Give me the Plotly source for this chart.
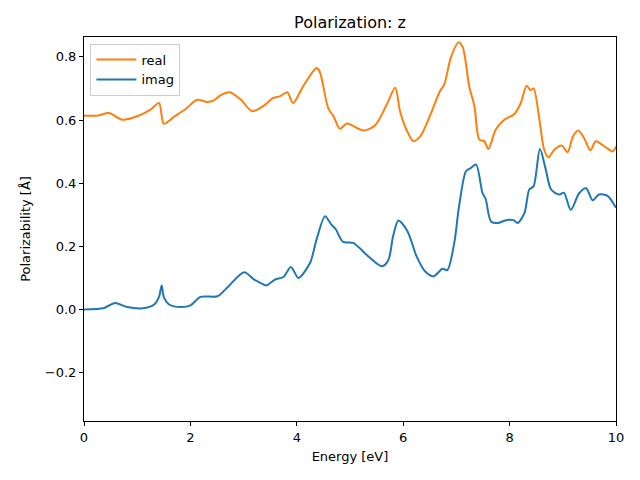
import plotly.graph_objects as go

real_E = [0, 0.25, 0.47, 0.72, 1.0, 1.25, 1.41, 1.50, 1.69, 1.91, 2.13, 2.32, 2.44, 2.57, 2.74, 2.95, 3.16,
          3.38, 3.56, 3.68, 3.82, 3.93, 4.12, 4.37, 4.43, 4.59, 4.69, 4.81, 4.94, 5.25, 5.47, 5.69, 5.85,
          5.94, 6.06, 6.19, 6.32, 6.50, 6.69, 6.77, 6.90, 7.04, 7.12, 7.24, 7.34, 7.43, 7.52, 7.60, 7.74,
          7.90, 8.09, 8.21, 8.32, 8.39, 8.45, 8.56, 8.65, 8.73, 8.84, 8.98, 9.09, 9.19, 9.29, 9.40, 9.52,
          9.62, 9.78, 9.94, 10.0]
real_v = [0.614, 0.614, 0.622, 0.601, 0.612, 0.633, 0.654, 0.588, 0.610, 0.635, 0.664, 0.657, 0.662, 0.679,
          0.688, 0.664, 0.628, 0.646, 0.670, 0.675, 0.688, 0.654, 0.707, 0.765, 0.754, 0.638, 0.612, 0.572,
          0.589, 0.567, 0.583, 0.649, 0.702, 0.628, 0.570, 0.533, 0.548, 0.612, 0.691, 0.712, 0.800, 0.846,
          0.830, 0.707, 0.643, 0.538, 0.534, 0.508, 0.570, 0.601, 0.619, 0.654, 0.709, 0.695, 0.700, 0.601,
          0.506, 0.482, 0.506, 0.519, 0.498, 0.548, 0.567, 0.543, 0.504, 0.533, 0.517, 0.501, 0.517]

imag_E = [0, 0.38, 0.58, 0.81, 1.10, 1.32, 1.41, 1.46, 1.50, 1.60, 1.82, 2.0, 2.19, 2.51, 2.69, 3.01, 3.20,
          3.38, 3.43, 3.59, 3.75, 3.89, 4.03, 4.25, 4.37, 4.53, 4.65, 4.73, 4.87, 5.06, 5.34, 5.60, 5.72,
          5.81, 5.91, 6.08, 6.25, 6.41, 6.57, 6.74, 6.83, 6.96, 7.05, 7.18, 7.27, 7.37, 7.49, 7.55, 7.65,
          7.78, 7.93, 8.07, 8.15, 8.28, 8.37, 8.45, 8.57, 8.68, 8.78, 8.93, 9.02, 9.15, 9.31, 9.44, 9.56,
          9.68, 9.84, 10.0]
imag_v = [0.0, 0.005, 0.021, 0.008, 0.004, 0.016, 0.040, 0.076, 0.040, 0.016, 0.008, 0.013, 0.040, 0.042,
          0.069, 0.118, 0.095, 0.079, 0.076, 0.095, 0.103, 0.135, 0.100, 0.148, 0.221, 0.295, 0.269, 0.255,
          0.214, 0.211, 0.169, 0.137, 0.156, 0.232, 0.282, 0.248, 0.169, 0.121, 0.105, 0.129, 0.125, 0.211,
          0.327, 0.438, 0.448, 0.459, 0.369, 0.350, 0.279, 0.274, 0.283, 0.283, 0.274, 0.306, 0.380, 0.390,
          0.508, 0.443, 0.380, 0.364, 0.370, 0.316, 0.369, 0.384, 0.346, 0.364, 0.360, 0.322]

x_ticks = [0, 2, 4, 6, 8, 10]
y_ticks = [-0.2, 0.0, 0.2, 0.4, 0.6, 0.8]

fig = go.Figure()
fig.add_trace(go.Scatter(x=real_E, y=real_v, mode="lines", name="real",
                         line=dict(color="#ff7f0e", width=2, shape="spline", smoothing=0.8)))
fig.add_trace(go.Scatter(x=imag_E, y=imag_v, mode="lines", name="imag",
                         line=dict(color="#1f77b4", width=2, shape="spline", smoothing=0.8)))

axis_common = dict(showline=True, linecolor="black", linewidth=1, mirror=True, ticks="outside",
                   ticklen=4, tickcolor="black", showgrid=False, zeroline=False,
                   tickfont=dict(family="DejaVu Sans", size=13, color="black"))
fig.update_xaxes(range=[0, 10], tickvals=x_ticks, title=dict(text="Energy [eV]", standoff=8,
                 font=dict(family="DejaVu Sans", size=13, color="black")), **axis_common)
fig.update_yaxes(range=[-0.353, 0.863], tickvals=y_ticks, tickformat=".1f",
                 title=dict(text="Polarizability [Å]", standoff=11,
                            font=dict(family="DejaVu Sans", size=13, color="black")), **axis_common)

W, H = 632, 472
fig.update_layout(
    width=W, height=H,
    margin=dict(l=76, r=24, t=29, b=59, autoexpand=False),
    paper_bgcolor="white", plot_bgcolor="white",
    title=dict(text="Polarization: z", x=342 / W, xanchor="center", y=1 - 14 / H,
               yanchor="middle", font=dict(family="DejaVu Sans", size=16, color="black")),
    font=dict(family="DejaVu Sans", size=13, color="black"),
    legend=dict(x=0.012, y=0.983, xanchor="left", yanchor="top", bgcolor="rgba(255,255,255,0.8)",
                bordercolor="#cccccc", borderwidth=1, font=dict(size=13), tracegroupgap=0,
                itemwidth=40),
    showlegend=True,
)

fig.write_html("out.html")
